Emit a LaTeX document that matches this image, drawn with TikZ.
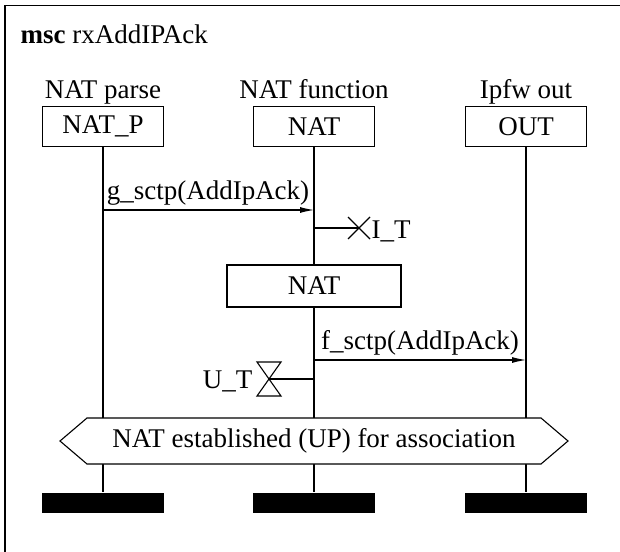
\documentclass[tikz,border=0pt]{standalone}
\usepackage{fontspec}
\setmainfont{Liberation Serif}
\usetikzlibrary{arrows.meta,calc}
\begin{document}
\begin{tikzpicture}[x=1pt,y=-1pt,line width=1.1pt,
  every node/.style={font=\fontsize{27}{31}\selectfont,inner sep=0pt},
  instbox/.style={draw,minimum width=121pt,minimum height=40pt,anchor=north},
  instname/.style={anchor=base},
  endbar/.style={fill=black,minimum width=122pt,minimum height=20pt,anchor=north},
  actbox/.style={draw,fill=white,minimum width=174pt,minimum height=42pt},
  msgarrow/.style={-{Latex[length=14pt,width=6pt]}},
  msglabel/.style={anchor=base}]
\useasboundingbox (0,0) rectangle (620,551);
\clip (0,0) rectangle (620,551);
% diagram frame (open to the right and bottom)
\draw (5,5.5) rectangle (700,700);
\node[anchor=base west] (title) at (20,44) {\textbf{msc} rxAddIPAck};

% instance heads
\node[instname] (nP) at (103,98) {NAT parse};
\node[instname] (nN) at (314,98) {NAT function};
\node[instname] (nO) at (526,98) {Ipfw out};
\node[instbox] (hP) at (103,106) {NAT\_P};
\node[instbox] (hN) at (314,106) {NAT};
\node[instbox] (hO) at (526,106) {OUT};

% instance ends
\node[endbar] (eP) at (103,492) {};
\node[endbar] (eN) at (314,492) {};
\node[endbar] (eO) at (526,492) {};

% lifelines
\draw (hP.south) -- (eP.north);
\draw (hN.south) -- (eN.north);
\draw (hO.south) -- (eO.north);

% message g_sctp
\coordinate (g1) at (103,210);
\coordinate (g2) at (314,210);
\draw[msgarrow] (g1) -- (g2);
\node[msglabel] (gl) at (208,199) {g\_sctp(AddIpAck)};

% timer I_T stopped
\coordinate (it1) at (314,228);
\coordinate (it2) at (359,228);
\draw (it1) -- (it2);
\draw ($(it2)+(-11,-11)$) -- ($(it2)+(11,11)$)
      ($(it2)+(-11,11)$) -- ($(it2)+(11,-11)$);
\node[anchor=base west] (itl) at (371,238) {I\_T};

% action box
\node[actbox] (act) at (314,286) {NAT};

% message f_sctp
\coordinate (f1) at (314,360);
\coordinate (f2) at (526,360);
\draw[msgarrow] (f1) -- (f2);
\node[msglabel] (fl) at (420,349) {f\_sctp(AddIpAck)};

% timer U_T set
\coordinate (ut1) at (314,379);
\coordinate (ut2) at (269,379);
\draw (ut1) -- (ut2);
\draw ($(ut2)+(-12,-17)$) -- ($(ut2)+(12,-17)$) -- ($(ut2)+(-12,17)$)
      -- ($(ut2)+(12,17)$) -- cycle;
\node[anchor=base east] (utl) at (253,388) {U\_T};

% condition
\draw[fill=white] (60,441) -- (87,418) -- (541,418) -- (568,441)
      -- (541,464) -- (87,464) -- cycle;
\node (cond) at (314,441) {NAT established (UP) for association};
\end{tikzpicture}
\end{document}
